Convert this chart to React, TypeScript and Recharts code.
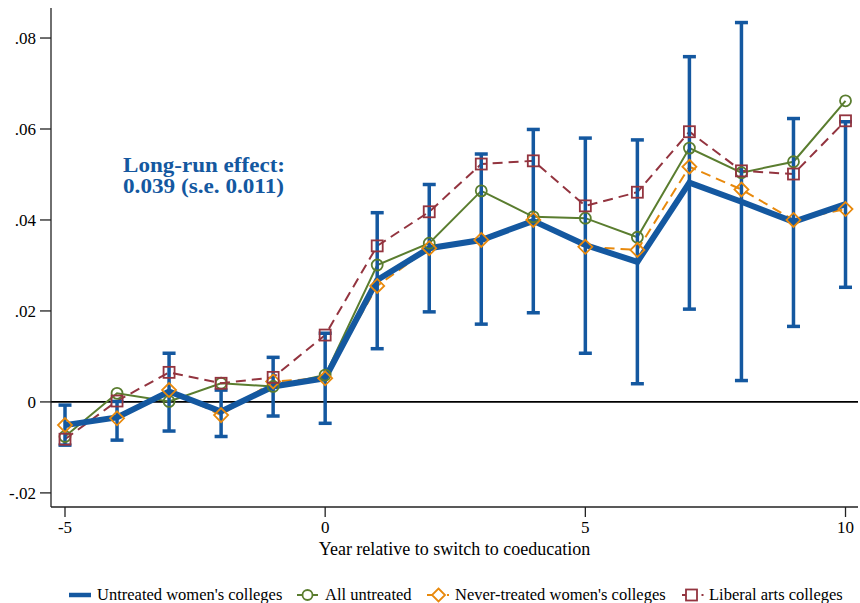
import React from 'react';
import { ComposedChart, Line, XAxis, YAxis, ErrorBar, ReferenceLine, Label } from 'recharts';

// ---------- data ----------
const years = [-5, -4, -3, -2, -1, 0, 1, 2, 3, 4, 5, 6, 7, 8, 9, 10];
const untreatedWomen = [-0.0051, -0.0034, 0.0023, -0.0021, 0.0034, 0.0052, 0.0268, 0.0338, 0.0356, 0.0398, 0.0345, 0.0308, 0.0482, 0.044, 0.0396, 0.0435];
const ciLow = [-0.0095, -0.0084, -0.0064, -0.0076, -0.0031, -0.0047, 0.0117, 0.0198, 0.0171, 0.0196, 0.0107, 0.004, 0.0204, 0.0047, 0.0166, 0.0252];
const ciHigh = [-0.0007, 0.0001, 0.0107, 0.0026, 0.0098, 0.0151, 0.0416, 0.0478, 0.0545, 0.0599, 0.058, 0.0576, 0.0759, 0.0834, 0.0623, 0.0616];
const allUntreated = [-0.0076, 0.0019, 0.0001, 0.0041, 0.0034, 0.0059, 0.0301, 0.0349, 0.0464, 0.0407, 0.0404, 0.0362, 0.0558, 0.0504, 0.0528, 0.0662];
const neverTreated = [-0.0051, -0.0036, 0.0026, -0.0029, 0.0045, 0.0052, 0.0255, 0.0338, 0.0356, 0.04, 0.0341, 0.0334, 0.0517, 0.0467, 0.04, 0.0424];
const liberalArts = [-0.0082, 0.0002, 0.0065, 0.0041, 0.0054, 0.0147, 0.0343, 0.0418, 0.0523, 0.053, 0.0431, 0.0461, 0.0594, 0.0508, 0.0501, 0.0618];

const yTicks = [-0.02, 0, 0.02, 0.04, 0.06, 0.08];
const xTicks = [-5, 0, 5, 10];
const seriesNames = ["Untreated women's colleges", 'All untreated', "Never-treated women's colleges", 'Liberal arts colleges'];
const xTitle = 'Year relative to switch to coeducation';
const noteLines = ['Long-run effect:', '0.039 (s.e. 0.011)'];

// ---------- styles ----------
const BLUE = '#1458a0';
const GREEN = '#5a7d2f';
const ORANGE = '#e8890c';
const RED = '#93343f';
const FONT = '"Liberation Serif", "Times New Roman", serif';

const data = years.map((x, i) => ({
  x,
  blue: untreatedWomen[i],
  err: [untreatedWomen[i] - ciLow[i], ciHigh[i] - untreatedWomen[i]],
  green: allUntreated[i],
  orange: neverTreated[i],
  red: liberalArts[i],
}));

const fmtY = (v: number) => {
  if (Math.abs(v) < 1e-9) return '0';
  const s = v.toFixed(2);
  return s.replace('0.', '.');
};

const XTick = (p: any) => (
  <text x={p.x} y={p.y} dy="0.71em" textAnchor="middle" fontFamily={FONT} fontSize={17} fill="#000">
    {String(p.payload.value)}
  </text>
);
const YTick = (p: any) => (
  <text x={p.x} y={p.y} dy="0.36em" textAnchor="end" fontFamily={FONT} fontSize={17} fill="#000">
    {fmtY(p.payload.value)}
  </text>
);

const CircleDot = (p: any) => {
  if (p.cx == null || p.cy == null) return <g key={`c-${p.index}`} />;
  return <circle key={`c-${p.index}`} cx={p.cx} cy={p.cy} r={5.5} fill="none" stroke={GREEN} strokeWidth={1.8} />;
};
const DiamondDot = (p: any) => {
  if (p.cx == null || p.cy == null) return <g key={`d-${p.index}`} />;
  const h = 7;
  return (
    <path
      key={`d-${p.index}`}
      d={`M${p.cx},${p.cy - h} L${p.cx + h},${p.cy} L${p.cx},${p.cy + h} L${p.cx - h},${p.cy} Z`}
      fill="none"
      stroke={ORANGE}
      strokeWidth={1.8}
    />
  );
};
const SquareDot = (p: any) => {
  if (p.cx == null || p.cy == null) return <g key={`s-${p.index}`} />;
  const h = 5.5;
  return <rect key={`s-${p.index}`} x={p.cx - h} y={p.cy - h} width={2 * h} height={2 * h} fill="none" stroke={RED} strokeWidth={1.8} />;
};

export default function App() {
  return (
    <div style={{ position: 'absolute', left: 0, top: 0, width: 860, height: 603, background: '#fff', fontFamily: FONT }}>
      <ComposedChart
        width={860}
        height={603}
        data={data}
        margin={{ top: 8, right: 2, bottom: 40, left: 0 }}
        style={{ fontFamily: FONT }}
      >
        <XAxis
          dataKey="x"
          type="number"
          domain={[-5.269, 10.24]}
          allowDataOverflow
          ticks={xTicks}
          tickSize={10}
          tickMargin={4}
          height={56}
          stroke="#222"
          strokeWidth={1.3}
          tick={XTick}
          tickLine={{ stroke: '#222', strokeWidth: 1.3 }}
        >
          <Label value={xTitle} position="insideBottom" offset={8} style={{ fill: '#000', fontSize: 18, fontFamily: FONT }} />
        </XAxis>
        <YAxis
          type="number"
          domain={[-0.0231, 0.0866]}
          allowDataOverflow
          ticks={yTicks}
          width={51}
          tickSize={11}
          tickMargin={4}
          stroke="#222"
          strokeWidth={1.3}
          tick={YTick}
          tickLine={{ stroke: '#222', strokeWidth: 1.3 }}
        />
        <ReferenceLine y={0} stroke="#000" strokeWidth={1.6} />
        <Line
          dataKey="green"
          stroke={GREEN}
          strokeWidth={2}
          dot={CircleDot}
          activeDot={false}
          isAnimationActive={false}
        />
        <Line
          dataKey="orange"
          stroke={ORANGE}
          strokeWidth={2}
          strokeDasharray="10 6"
          dot={DiamondDot}
          activeDot={false}
          isAnimationActive={false}
        />
        <Line
          dataKey="red"
          stroke={RED}
          strokeWidth={2}
          strokeDasharray="10 6"
          dot={SquareDot}
          activeDot={false}
          isAnimationActive={false}
        />
        <Line
          dataKey="blue"
          stroke={BLUE}
          strokeWidth={6}
          dot={false}
          activeDot={false}
          isAnimationActive={false}
        >
          <ErrorBar dataKey="err" direction="y" width={6.5} strokeWidth={3.5} stroke={BLUE} isAnimationActive={false} />
        </Line>
      </ComposedChart>

      <svg width={860} height={603} style={{ position: 'absolute', left: 0, top: 0, pointerEvents: 'none', fontFamily: FONT }}>
        <text x={123} y={171.5} textLength={162} lengthAdjust="spacingAndGlyphs" fontFamily={FONT} fontWeight="bold" fontSize={20.5} fill={BLUE}>
          {noteLines[0]}
        </text>
        <text x={123} y={193} textLength={161} lengthAdjust="spacingAndGlyphs" fontFamily={FONT} fontWeight="bold" fontSize={20.5} fill={BLUE}>
          {noteLines[1]}
        </text>

        {/* legend */}
        <line x1={69} y1={595} x2={91} y2={595} stroke={BLUE} strokeWidth={4.5} />
        <text x={97} y={599.5} fontFamily={FONT} fontSize={16.5} fill="#000">{seriesNames[0]}</text>

        <line x1={297} y1={595} x2={318} y2={595} stroke={GREEN} strokeWidth={2} />
        <circle cx={307.5} cy={595} r={5} fill="#fff" stroke={GREEN} strokeWidth={1.8} />
        <text x={325} y={599.5} fontFamily={FONT} fontSize={16.5} fill="#000">{seriesNames[1]}</text>

        <line x1={427} y1={595} x2={432} y2={595} stroke={ORANGE} strokeWidth={2} />
        <path d="M438.5,588.5 L445,595 L438.5,601.5 L432,595 Z" fill="#fff" stroke={ORANGE} strokeWidth={1.8} />
        <line x1={447} y1={595} x2={449} y2={595} stroke={ORANGE} strokeWidth={2} />
        <text x={455} y={599.5} fontFamily={FONT} fontSize={16.5} fill="#000">{seriesNames[2]}</text>

        <line x1={682} y1={595} x2={686} y2={595} stroke={RED} strokeWidth={2} />
        <rect x={686} y={589.5} width={11} height={11} fill="#fff" stroke={RED} strokeWidth={1.8} />
        <line x1={701.5} y1={595} x2={703.5} y2={595} stroke={RED} strokeWidth={2} />
        <text x={709} y={599.5} fontFamily={FONT} fontSize={16.5} fill="#000">{seriesNames[3]}</text>
      </svg>
    </div>
  );
}
